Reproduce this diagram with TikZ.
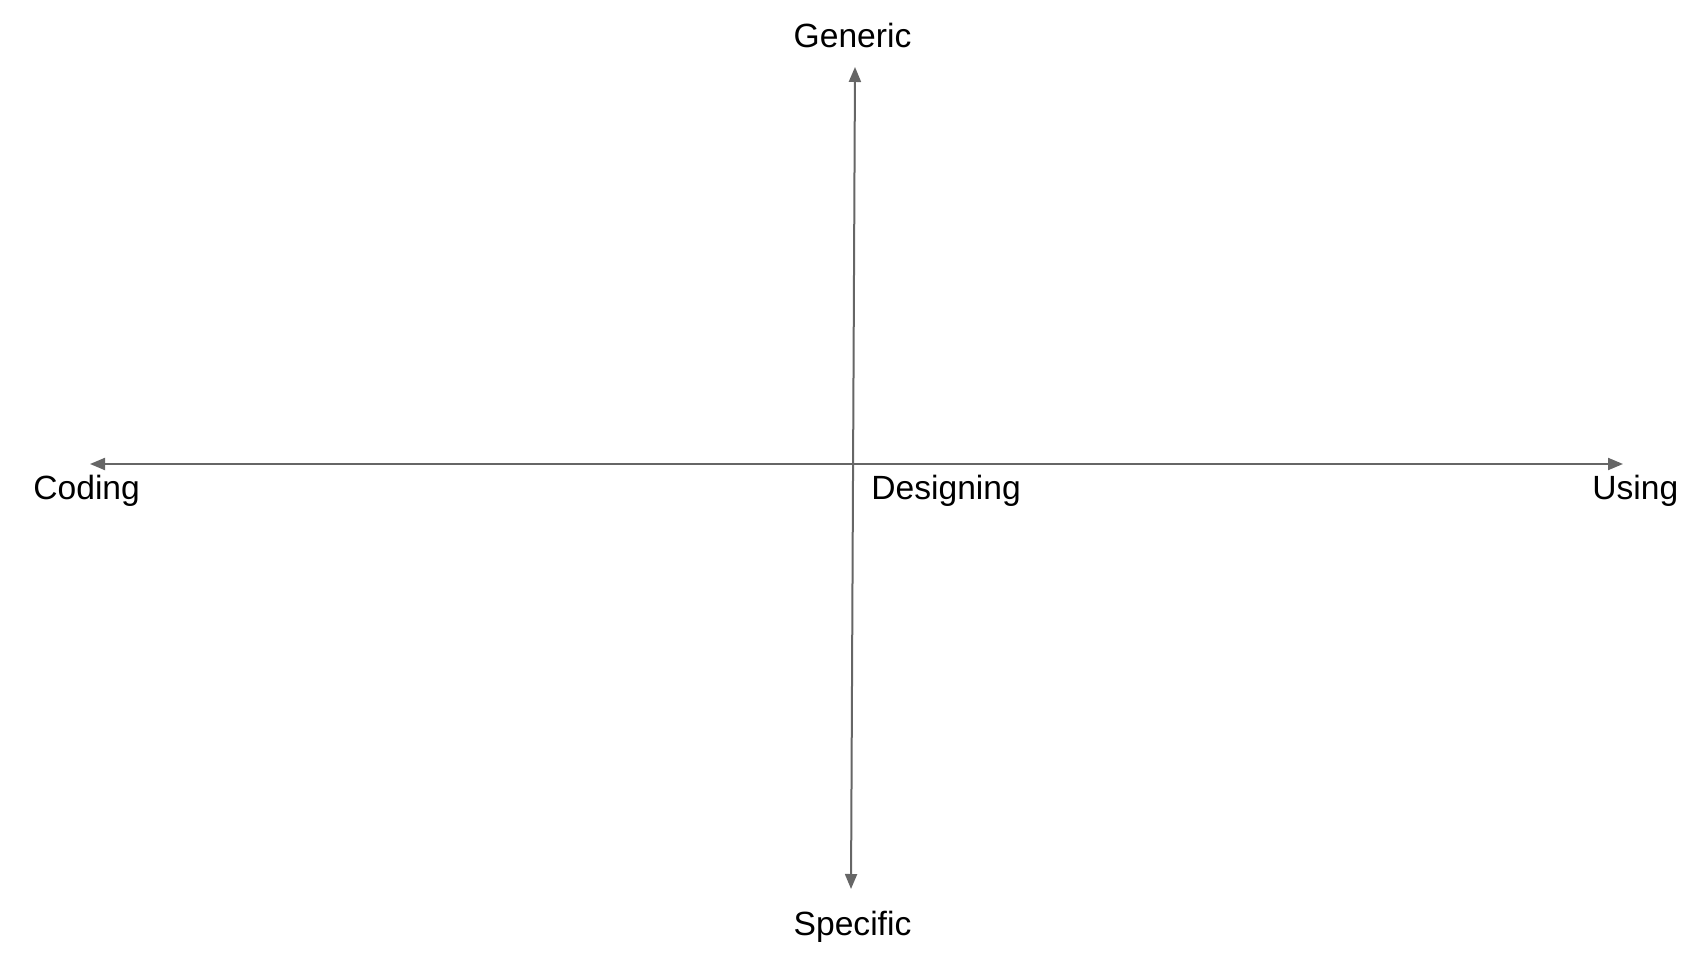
\documentclass[tikz,border=0pt]{standalone}
\usepackage{fontspec}
\setmainfont{Liberation Sans}
\usetikzlibrary{arrows.meta}
\begin{document}
\begin{tikzpicture}[x=0.5pt,y=-0.5pt]
		\tikzstyle{every node}+=[inner sep=0pt,font=\fontsize{16.8}{20}\selectfont]
		\tikzstyle{axis}=[draw=black!60,line width=1pt,{Triangle[length=7.5pt,width=6pt]}-{Triangle[length=7.5pt,width=6pt]}]
		\useasboundingbox (0,0) rectangle (1706,956);
		\coordinate (top) at (855,67);
		\coordinate (bottom) at (851,889);
		\coordinate (left) at (90,464);
		\coordinate (right) at (1623,464);
		\draw [axis] (left) -- (right);
		\draw [axis] (top) -- (bottom);
		\node (generic) [anchor=base] at (852.5,48) {Generic};
		\node (specific) [anchor=base] at (852.5,935) {Specific};
		\node (coding) [anchor=base west] at (33,499) {Coding};
		\node (designing) [anchor=base west] at (871,499) {Designing};
		\node (using) [anchor=base west] at (1592,499) {Using};
	\end{tikzpicture}
\end{document}
